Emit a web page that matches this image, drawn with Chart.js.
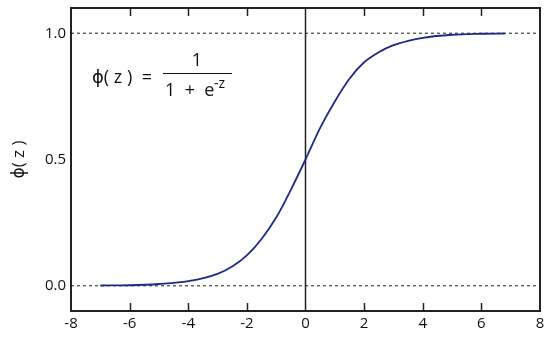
<!DOCTYPE html>
<html>
<head>
<meta charset="utf-8">
<script src="https://cdn.jsdelivr.net/npm/chart.js@4.4.1/dist/chart.umd.min.js"></script>
<style>
  html, body { margin: 0; padding: 0; background: #fff; }
  #wrap { width: 550px; height: 345px; }
</style>
</head>
<body>
<div id="wrap"><canvas id="c" width="550" height="345"></canvas></div>
<script>
// values
const zValues = [-7, -6, -5, -4, -3, -2.5, -2, -1.5, -1, -0.5, 0, 0.5, 1, 1.5, 2, 2.5, 3, 3.5, 4, 5, 6, 6.8];
const phiValues = [0.001, 0.002, 0.007, 0.018, 0.047, 0.076, 0.12, 0.185, 0.27, 0.38, 0.5, 0.625, 0.73, 0.82, 0.885, 0.925, 0.953, 0.97, 0.982, 0.994, 0.998, 0.999];
const xTicks = [-8, -6, -4, -2, 0, 2, 4, 6, 8];
const yTicks = [0.0, 0.5, 1.0];
const refLevels = [0, 1];

const FONT = "'Open Sans', 'DejaVu Sans', sans-serif";
const INK = '#222';

const curve = zValues.map((z, i) => ({ x: z, y: phiValues[i] }));

// frame, inward ticks and the formula
const decor = {
  id: 'decor',
  afterDraw(chart) {
    const { ctx, chartArea: a, scales } = chart;
    const xs = scales.x;
    ctx.save();
    ctx.strokeStyle = INK;
    ctx.lineWidth = 1.5;
    xTicks.forEach(v => {
      if (v === 0 || v === xTicks[0] || v === xTicks[xTicks.length - 1]) return;
      const px = Math.round(xs.getPixelForValue(v)) + 0.5;
      ctx.beginPath();
      ctx.moveTo(px, a.bottom); ctx.lineTo(px, a.bottom - 8);
      ctx.moveTo(px, a.top); ctx.lineTo(px, a.top + 8);
      ctx.stroke();
    });
    ctx.lineWidth = 2;
    ctx.strokeRect(a.left, a.top, a.right - a.left, a.bottom - a.top);

    // formula
    ctx.fillStyle = '#111';
    ctx.textBaseline = 'middle';
    ctx.font = '18px ' + FONT;
    ctx.textAlign = 'left';
    ctx.fillText('ϕ( z )  =', 92, 78);
    ctx.textAlign = 'center';
    ctx.fillText('1', 197, 61);
    ctx.lineWidth = 1;
    ctx.strokeStyle = '#111';
    ctx.beginPath();
    ctx.moveTo(163, 73.5); ctx.lineTo(232, 73.5);
    ctx.stroke();
    ctx.textAlign = 'left';
    ctx.fillText('1  +  e', 165, 91);
    ctx.font = '14px ' + FONT;
    ctx.fillText('-z', 214, 84);
    ctx.restore();
  }
};

new Chart(document.getElementById('c'), {
  type: 'scatter',
  data: {
    datasets: [
      {
        data: curve,
        showLine: true,
        borderColor: '#1f2a85',
        borderWidth: 1.8,
        pointRadius: 0,
        tension: 0.4,
        cubicInterpolationMode: 'monotone',
        order: 0
      },
      ...refLevels.map(lv => ({
        data: [{ x: xTicks[0], y: lv }, { x: xTicks[xTicks.length - 1], y: lv }],
        showLine: true,
        borderColor: '#444',
        borderWidth: 1.2,
        borderDash: [3, 3],
        pointRadius: 0,
        order: 2
      })),
      {
        data: [{ x: 0, y: -0.1 }, { x: 0, y: 1.1 }],
        showLine: true,
        borderColor: INK,
        borderWidth: 1.5,
        pointRadius: 0,
        order: 1
      }
    ]
  },
  options: {
    responsive: false,
    animation: false,
    events: [],
    layout: { padding: { top: 8, right: 10, left: 0, bottom: 0 } },
    plugins: { legend: { display: false }, tooltip: { enabled: false } },
    scales: {
      x: {
        type: 'linear',
        min: -8, max: 8,
        afterBuildTicks: s => { s.ticks = xTicks.map(v => ({ value: v })); },
        afterFit: s => { s.height = 34; s.paddingLeft = 0; s.paddingRight = 0; },
        grid: { display: false, drawTicks: false },
        border: { display: false },
        ticks: { color: '#111', font: { family: FONT, size: 15 }, padding: 4 }
      },
      y: {
        type: 'linear',
        min: -0.1, max: 1.1,
        afterBuildTicks: s => { s.ticks = yTicks.map(v => ({ value: v })); },
        afterFit: s => { s.width = 71; s.paddingTop = 0; s.paddingBottom = 0; },
        grid: { display: false, drawTicks: false },
        border: { display: false },
        ticks: { color: '#111', font: { family: FONT, size: 15 }, padding: 5, callback: v => v.toFixed(1) },
        title: { display: true, text: 'ϕ( z )', color: '#111', font: { family: FONT, size: 17 }, padding: { top: 9, bottom: 0 } }
      }
    }
  },
  plugins: [decor]
});
</script>
</body>
</html>
